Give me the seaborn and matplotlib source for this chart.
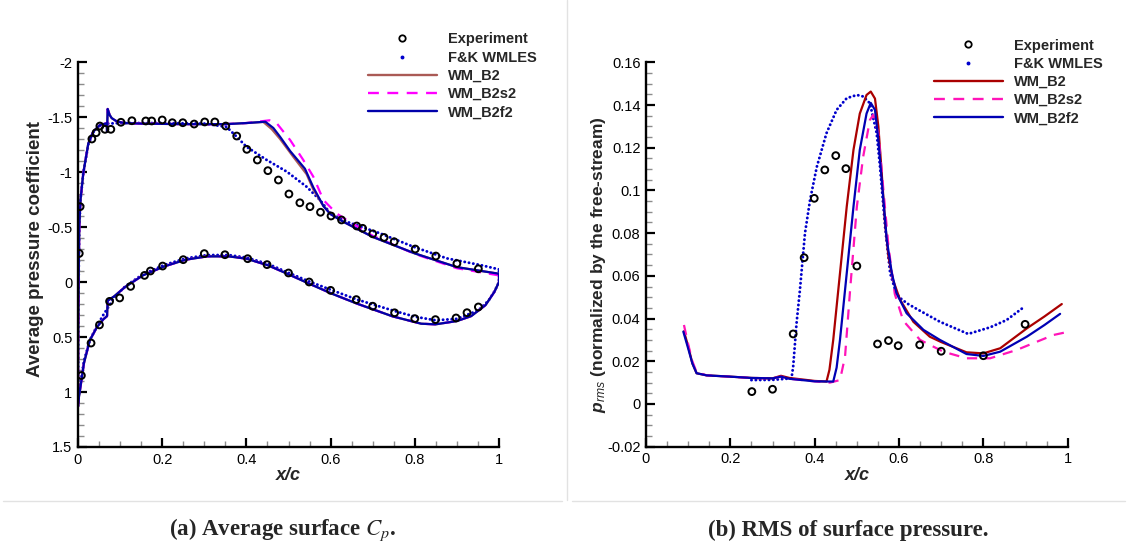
import matplotlib
matplotlib.use("Agg")
import matplotlib.pyplot as plt
from matplotlib.lines import Line2D
from matplotlib.ticker import MultipleLocator, FuncFormatter
import pandas as pd
import seaborn as sns

# ---------------- (a) mean surface pressure coefficient ----------------
exp_up_x = [0.003, 0.005, 0.033, 0.043, 0.052, 0.064, 0.078, 0.102, 0.128, 0.161, 0.175, 0.200,
            0.224, 0.249, 0.276, 0.301, 0.325, 0.351, 0.377, 0.401, 0.426, 0.451, 0.476, 0.501,
            0.527, 0.551, 0.576, 0.601, 0.626, 0.662, 0.676, 0.700, 0.727, 0.751, 0.801, 0.850,
            0.900, 0.951]
exp_up_cp = [-0.26, -0.685, -1.30, -1.357, -1.418, -1.388, -1.388, -1.452, -1.466, -1.464, -1.464,
             -1.473, -1.448, -1.448, -1.436, -1.455, -1.455, -1.418, -1.327, -1.206, -1.109, -1.012,
             -0.927, -0.80, -0.72, -0.685, -0.634, -0.60, -0.564, -0.509, -0.488, -0.438, -0.405,
             -0.366, -0.30, -0.236, -0.168, -0.12]
exp_lo_x = [0.008, 0.031, 0.051, 0.075, 0.099, 0.125, 0.158, 0.172, 0.201, 0.25, 0.30, 0.349,
            0.403, 0.449, 0.50, 0.549, 0.60, 0.661, 0.70, 0.752, 0.80, 0.849, 0.898, 0.924, 0.951]
exp_lo_cp = [0.85, 0.555, 0.39, 0.176, 0.145, 0.04, -0.06, -0.10, -0.145, -0.203, -0.258, -0.248,
             -0.212, -0.158, -0.082, 0.0, 0.076, 0.16, 0.22, 0.28, 0.333, 0.342, 0.327, 0.279, 0.227]

# suction side, leading edge up to the plateau (common to the wall-modelled runs)
wm_le_x = [0.0, 0.0005, 0.0015, 0.003, 0.006, 0.0126, 0.0245, 0.036, 0.052, 0.068, 0.069, 0.0705,
           0.075, 0.08, 0.092, 0.11, 0.15, 0.25, 0.35]
wm_le_cp = [1.13, 0.5, 0.0, -0.5, -0.75, -0.99, -1.26, -1.366, -1.427, -1.443, -1.366, -1.573,
            -1.52, -1.49, -1.46, -1.445, -1.44, -1.435, -1.435]
# suction side, separation region to trailing edge
b2_up_x = [0.40, 0.44, 0.46, 0.48, 0.511, 0.543, 0.559, 0.583, 0.60, 0.63, 0.70, 0.80, 0.90, 1.0]
b2_up_cp = [-1.445, -1.455, -1.39, -1.30, -1.14, -0.98, -0.84, -0.69, -0.62, -0.548, -0.41, -0.26,
            -0.135, -0.075]
s2_up_x = [0.40, 0.455, 0.472, 0.504, 0.535, 0.559, 0.583, 0.614, 0.638, 0.70, 0.80, 0.90, 1.0]
s2_up_cp = [-1.445, -1.47, -1.443, -1.29, -1.11, -0.957, -0.745, -0.624, -0.564, -0.42, -0.255,
            -0.125, -0.06]
f2_up_x = [0.40, 0.445, 0.464, 0.48, 0.504, 0.539, 0.559, 0.583, 0.599, 0.63, 0.70, 0.80, 0.90, 1.0]
f2_up_cp = [-1.445, -1.457, -1.40, -1.32, -1.19, -1.03, -0.86, -0.69, -0.618, -0.548, -0.41, -0.26,
            -0.135, -0.075]
# pressure side (common to the wall-modelled runs)
wm_lo_x = [0.0, 0.002, 0.006, 0.014, 0.028, 0.045, 0.06, 0.069, 0.0705, 0.086, 0.112, 0.154, 0.205,
           0.256, 0.307, 0.358, 0.40, 0.451, 0.493, 0.549, 0.603, 0.663, 0.747, 0.815, 0.849, 0.90,
           0.934, 0.968, 0.989, 1.0]
wm_lo_cp = [1.13, 1.05, 0.95, 0.74, 0.53, 0.41, 0.34, 0.31, 0.17, 0.13, 0.045, -0.06, -0.142,
            -0.203, -0.233, -0.233, -0.212, -0.152, -0.082, 0.015, 0.106, 0.197, 0.312, 0.379,
            0.385, 0.355, 0.31, 0.21, 0.09, 0.0]
# reference WMLES (F&K)
fk_up_x = [0.0, 0.0005, 0.0015, 0.003, 0.006, 0.0126, 0.0245, 0.036, 0.052, 0.07, 0.1, 0.2, 0.3,
           0.353, 0.377, 0.40, 0.448, 0.496, 0.543, 0.575, 0.599, 0.638, 0.717, 0.797, 0.876,
           0.955, 1.0]
fk_up_cp = [1.13, 0.5, 0.0, -0.5, -0.75, -0.99, -1.25, -1.36, -1.42, -1.44, -1.445, -1.445, -1.44,
            -1.41, -1.32, -1.23, -1.11, -1.003, -0.866, -0.745, -0.625, -0.548, -0.443, -0.32,
            -0.215, -0.155, -0.115]
fk_lo_x = [0.0, 0.002, 0.006, 0.014, 0.028, 0.045, 0.06, 0.075, 0.086, 0.112, 0.154, 0.205, 0.256,
           0.307, 0.358, 0.40, 0.451, 0.493, 0.549, 0.60, 0.663, 0.747, 0.80, 0.849, 0.90, 0.951,
           0.975, 0.99, 1.0]
fk_lo_cp = [1.13, 1.03, 0.92, 0.72, 0.53, 0.40, 0.30, 0.21, 0.14, 0.04, -0.07, -0.155, -0.215,
            -0.245, -0.245, -0.222, -0.165, -0.095, -0.005, 0.07, 0.16, 0.258, 0.315, 0.348,
            0.335, 0.258, 0.17, 0.08, 0.0]

# ---------------- (b) RMS surface pressure ----------------
exp_rms_x = [0.251, 0.30, 0.349, 0.375, 0.399, 0.424, 0.45, 0.474, 0.50, 0.549, 0.575, 0.598,
             0.649, 0.70, 0.80, 0.899]
exp_rms_p = [0.0058, 0.0069, 0.0328, 0.0685, 0.0963, 0.1096, 0.1163, 0.1102, 0.0646, 0.0281,
             0.0297, 0.0273, 0.0277, 0.0247, 0.0226, 0.0373]
fk_rms_x = [0.25, 0.30, 0.345, 0.349, 0.357, 0.365, 0.377, 0.389, 0.405, 0.428, 0.452, 0.476,
            0.50, 0.515, 0.531, 0.547, 0.555, 0.567, 0.579, 0.59, 0.60, 0.62, 0.642, 0.697,
            0.764, 0.816, 0.855, 0.899]
fk_rms_p = [0.0112, 0.0113, 0.012, 0.0175, 0.0378, 0.0534, 0.080, 0.0955, 0.111, 0.1268, 0.1377,
            0.1432, 0.1447, 0.144, 0.1408, 0.1268, 0.111, 0.083, 0.0612, 0.054, 0.050, 0.047,
            0.0445, 0.0385, 0.0328, 0.0359, 0.0393, 0.0458]
b2_rms_x = [0.09, 0.10, 0.11, 0.12, 0.144, 0.2, 0.25, 0.30, 0.32, 0.34, 0.40, 0.428, 0.435, 0.444,
            0.46, 0.476, 0.492, 0.507, 0.523, 0.533, 0.543, 0.551, 0.559, 0.567, 0.575, 0.586,
            0.602, 0.634, 0.673, 0.70, 0.76, 0.80, 0.84, 0.903, 0.945, 0.986]
b2_rms_p = [0.034, 0.027, 0.019, 0.0144, 0.0134, 0.0128, 0.0122, 0.0120, 0.0132, 0.0122, 0.0108,
            0.0105, 0.016, 0.030, 0.0612, 0.0924, 0.119, 0.136, 0.1447, 0.1463, 0.143, 0.130,
            0.108, 0.0846, 0.069, 0.058, 0.049, 0.0385, 0.0315, 0.029, 0.0242, 0.0237, 0.0261,
            0.0354, 0.041, 0.0468]
s2_rms_x = [0.09, 0.10, 0.11, 0.12, 0.144, 0.2, 0.25, 0.30, 0.32, 0.34, 0.40, 0.436, 0.46, 0.472,
            0.484, 0.50, 0.515, 0.531, 0.539, 0.551, 0.563, 0.575, 0.59, 0.61, 0.65, 0.705, 0.76,
            0.816, 0.879, 0.966, 0.994]
s2_rms_p = [0.037, 0.028, 0.020, 0.0148, 0.0134, 0.0128, 0.0122, 0.0120, 0.0128, 0.0118, 0.0106,
            0.0100, 0.0112, 0.0222, 0.0534, 0.0924, 0.1158, 0.133, 0.1354, 0.1268, 0.100, 0.0737,
            0.0515, 0.039, 0.030, 0.0245, 0.0214, 0.0214, 0.0253, 0.0323, 0.0335]
f2_rms_x = [0.0885, 0.10, 0.11, 0.12, 0.144, 0.2, 0.25, 0.30, 0.32, 0.34, 0.40, 0.444, 0.452, 0.46,
            0.476, 0.492, 0.507, 0.523, 0.533, 0.543, 0.551, 0.563, 0.571, 0.583, 0.594, 0.618,
            0.658, 0.697, 0.76, 0.80, 0.84, 0.903, 0.945, 0.982]
f2_rms_p = [0.0339, 0.026, 0.019, 0.0144, 0.0134, 0.0128, 0.0122, 0.0120, 0.0128, 0.0118, 0.0106,
            0.0105, 0.017, 0.030, 0.0612, 0.0924, 0.119, 0.136, 0.141, 0.1377, 0.1237, 0.0955,
            0.0768, 0.0612, 0.0519, 0.0425, 0.0347, 0.030, 0.0234, 0.0225, 0.0245, 0.0315, 0.037,
            0.0422]

labels = ["Experiment", "F&K WMLES", "WM_B2", "WM_B2s2", "WM_B2f2"]

sns.set_theme(style="white")
plt.rcParams.update({
    "font.family": ["Liberation Sans", "DejaVu Sans"],
    "axes.unicode_minus": False,
    "mathtext.fontset": "custom",
    "mathtext.rm": "Liberation Sans",
    "mathtext.it": "Liberation Sans:italic",
    "mathtext.bf": "Liberation Sans:bold",
    "mathtext.bfit": "Liberation Sans:italic:bold",
})

W, H = 1128, 550
fig = plt.figure(figsize=(W / 100, H / 100), dpi=100)
ax_a = fig.add_axes([78 / W, 1 - 447 / H, 421 / W, 385 / H])
ax_b = fig.add_axes([646 / W, 1 - 446.7 / H, 421.7 / W, 384.4 / H])

FK_BLUE = "#0000cc"
DOT = (0, (0.05, 1.45))
DASH = (0, (4.6, 3.6))


def loop(up_x, up_y, lo_x, lo_y):
    """Closed contour: suction side from TE to LE, pressure side back to TE."""
    xs = list(up_x[::-1]) + list(lo_x) + [up_x[-1]]
    ys = list(up_y[::-1]) + list(lo_y) + [up_y[-1]]
    return pd.DataFrame({"x": xs, "y": ys})


def draw(ax, df, color, lw=1.6, ls="-", **kw):
    sns.lineplot(data=df, x="x", y="y", ax=ax, sort=False, estimator=None, color=color,
                 linewidth=lw, linestyle=ls, legend=False, **kw)


# panel (a)
draw(ax_a, loop(fk_up_x, fk_up_cp, fk_lo_x, fk_lo_cp), FK_BLUE, lw=2.1, ls=DOT,
     dash_capstyle="round")
for up_x, up_cp, col, ls in [(b2_up_x, b2_up_cp, "#aa5a55", "-"),
                             (s2_up_x, s2_up_cp, "#ff00ff", DASH),
                             (f2_up_x, f2_up_cp, "#0000aa", "-")]:
    draw(ax_a, loop(wm_le_x + up_x, wm_le_cp + up_cp, wm_lo_x, wm_lo_cp), col, ls=ls)
exp_a = pd.DataFrame({"x": exp_up_x + exp_lo_x, "y": exp_up_cp + exp_lo_cp})
sns.scatterplot(data=exp_a, x="x", y="y", ax=ax_a, marker="o", s=24, facecolor="none",
                edgecolor="black", linewidth=1.4, zorder=5, legend=False)

# panel (b)
draw(ax_b, pd.DataFrame({"x": fk_rms_x, "y": fk_rms_p}), FK_BLUE, lw=2.1, ls=DOT,
     dash_capstyle="round")
draw(ax_b, pd.DataFrame({"x": b2_rms_x, "y": b2_rms_p}), "#aa0000")
draw(ax_b, pd.DataFrame({"x": s2_rms_x, "y": s2_rms_p}), "#ff14b8", ls=DASH)
draw(ax_b, pd.DataFrame({"x": f2_rms_x, "y": f2_rms_p}), "#0000b4")
sns.scatterplot(data=pd.DataFrame({"x": exp_rms_x, "y": exp_rms_p}), x="x", y="y", ax=ax_b,
                marker="o", s=24, facecolor="none", edgecolor="black", linewidth=1.4,
                zorder=5, legend=False)

fmt = FuncFormatter(lambda v, p: f"{round(v, 6) + 0:g}")
for ax in (ax_a, ax_b):
    ax.set_xlim(0, 1)
    ax.xaxis.set_major_locator(MultipleLocator(0.2))
    ax.xaxis.set_minor_locator(MultipleLocator(0.05))
    ax.xaxis.set_major_formatter(fmt)
    ax.yaxis.set_major_formatter(fmt)
    for s in ("top", "right"):
        ax.spines[s].set_visible(False)
    for s in ("left", "bottom"):
        ax.spines[s].set_linewidth(1.7)
        ax.spines[s].set_color("black")
    ax.tick_params(which="both", direction="in", left=True, bottom=True, top=False, right=False)
    ax.tick_params(which="major", length=6.5, width=1.6, color="black", labelsize=10.5, pad=4,
                   labelcolor="black")
    ax.tick_params(which="minor", length=4.2, width=1.0, color="#8c8c8c")
    ax.set_xlabel("x/c", fontsize=13, fontweight="bold", fontstyle="italic", va="center")

ax_a.xaxis.set_label_coords(0.5, -(476 - 447) / 385)
ax_b.xaxis.set_label_coords(0.5, -(476 - 446.7) / 384.4)

ax_a.set_ylim(1.5, -2)
ax_a.yaxis.set_major_locator(MultipleLocator(0.5))
ax_a.yaxis.set_minor_locator(MultipleLocator(0.1))
ax_a.set_ylabel("Average pressure coefficient", fontsize=13.5, fontweight="bold",
                va="center")
ax_a.yaxis.set_label_coords(-(78 - 36) / 421, (447 - 249) / 385)

ax_b.set_ylim(-0.02, 0.16)
ax_b.yaxis.set_major_locator(MultipleLocator(0.02))
ax_b.yaxis.set_minor_locator(MultipleLocator(0.005))
ax_b.set_ylabel(r"$\mathbfit{p}_{\mathit{rms}}$ (normalized by the free-stream)", fontsize=12.5,
                fontweight="bold", va="center")
ax_b.yaxis.set_label_coords(-(646 - 598) / 421.7, (446.7 - 265) / 384.4)


def handles(c_b2, c_s2, c_f2):
    return [Line2D([], [], ls="none", marker="o", ms=4.6, mfc="none", mec="black", mew=1.3),
            Line2D([], [], ls="none", marker="o", ms=1.8, color=FK_BLUE),
            Line2D([], [], color=c_b2, lw=1.7),
            Line2D([], [], color=c_s2, lw=1.7, ls=DASH),
            Line2D([], [], color=c_f2, lw=1.7)]


leg_kw = dict(loc="upper left", bbox_transform=fig.transFigure, frameon=False, borderpad=0,
              borderaxespad=0, handlelength=4.7, handletextpad=0.8, labelspacing=0.29,
              prop={"weight": "bold", "size": 10.5})
ax_a.legend(handles("#aa5a55", "#ff00ff", "#0000aa"), labels,
            bbox_to_anchor=(368 / W, 1 - 32.5 / H), **leg_kw)
ax_b.legend(handles("#aa0000", "#ff14b8", "#0000b4"), labels,
            bbox_to_anchor=(934 / W, 1 - 38.5 / H), **leg_kw)

# page furniture: panel separators and sub-captions
fig.add_artist(Line2D([567 / W, 567 / W], [1 - 500 / H, 1.0], color="#e2e2e2", lw=1.0))
fig.add_artist(Line2D([3 / W, 562 / W], [1 - 501 / H] * 2, color="#e2e2e2", lw=1.0))
fig.add_artist(Line2D([572 / W, 1125 / W], [1 - 501 / H] * 2, color="#e2e2e2", lw=1.0))
cap_kw = dict(ha="center", va="center", fontsize=16.5, fontweight="bold",
              family="Liberation Serif", math_fontfamily="stix")
fig.text(283 / W, 1 - 530 / H, r"(a) Average surface $C_p$.", **cap_kw)
fig.text(848 / W, 1 - 530 / H, "(b) RMS of surface pressure.", **cap_kw)

fig.savefig("out.png", dpi=100, facecolor="white")
